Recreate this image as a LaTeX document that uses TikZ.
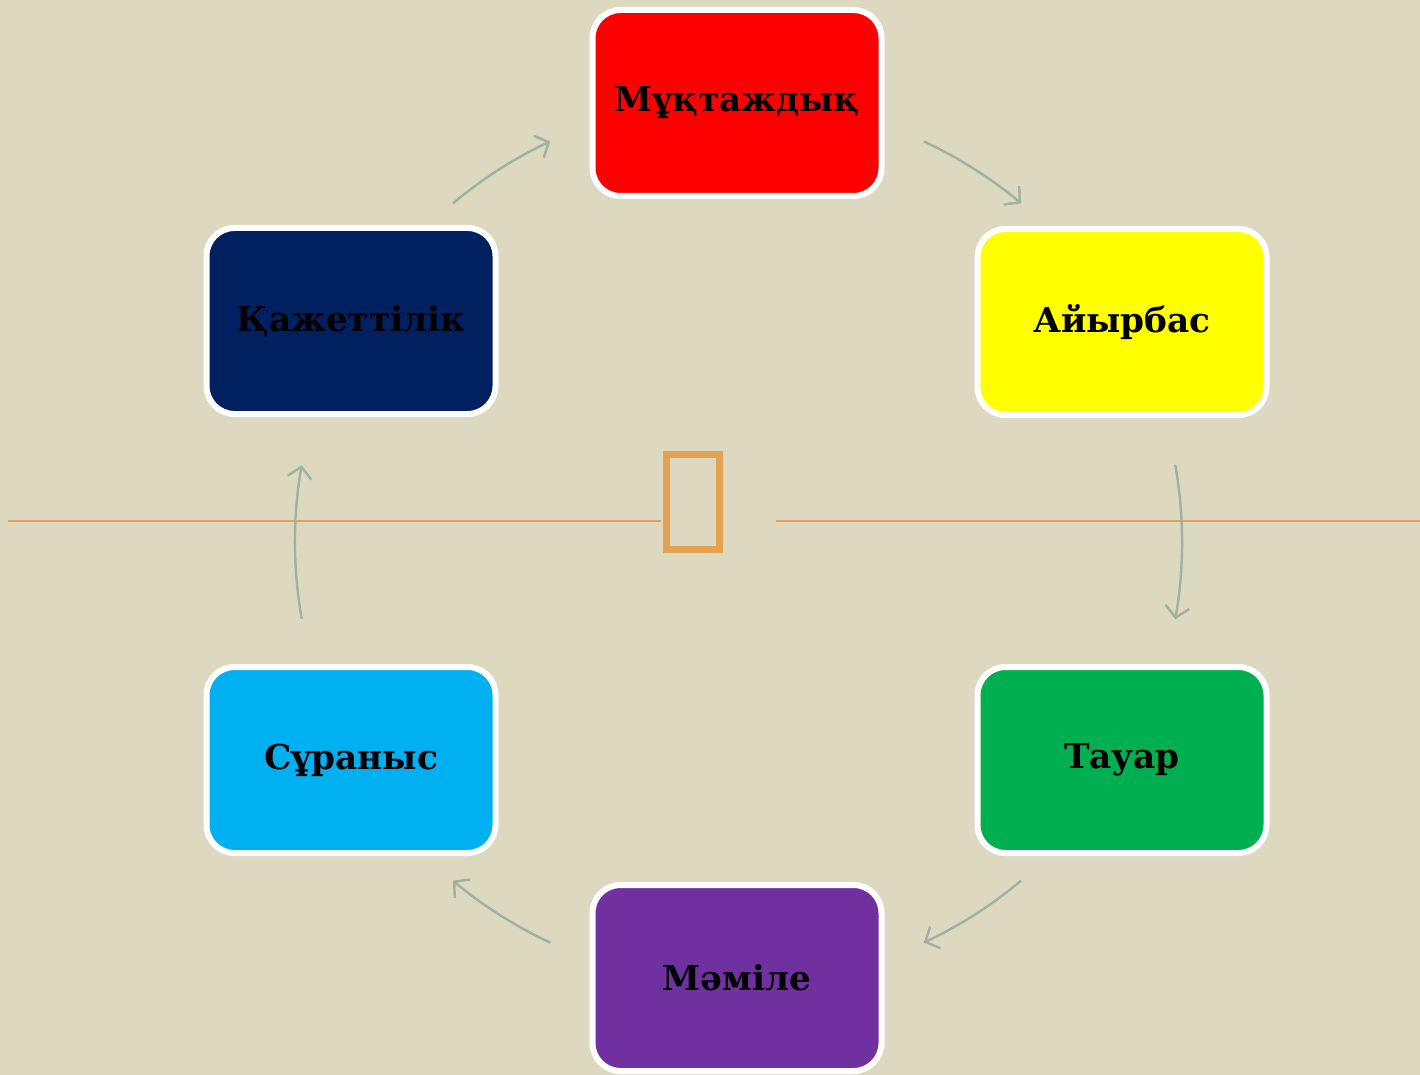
\documentclass[tikz,border=0pt]{standalone}
\usepackage{fontspec}
\setmainfont{DejaVu Serif}
\usetikzlibrary{arrows.meta}
\definecolor{bg}{RGB}{221,217,192}
\definecolor{arr}{RGB}{158,178,158}
\definecolor{orng}{RGB}{226,162,82}
\definecolor{cred}{RGB}{255,0,0}
\definecolor{cnavy}{RGB}{0,32,96}
\definecolor{cyel}{RGB}{255,255,0}
\definecolor{cgreen}{RGB}{0,176,80}
\definecolor{ccyan}{RGB}{0,176,240}
\definecolor{cpurp}{RGB}{112,48,160}
\begin{document}
\begin{tikzpicture}[x=1pt,y=-1pt,
  cbox/.style={draw=white, line width=6pt, rounded corners=28pt,
    minimum width=289pt, minimum height=186pt, inner sep=0pt,
    font=\bfseries\fontsize{34.3}{40}\selectfont, text=black},
  cyc/.style={draw=arr, line width=2.4pt, -{Straight Barb[length=11pt,width=24pt,line width=2.4pt]}},
  orl/.style={draw=orng, line width=2pt}]
\fill[bg] (0,0) rectangle (1420,1075);
\useasboundingbox (0,0) rectangle (1420,1075);
% divider line and box
\coordinate (l1) at (8,521);
\coordinate (l2) at (661,521);
\coordinate (r1) at (776,521);
\coordinate (r2) at (1420,521);
\draw[orl] (l1) -- (l2);
\draw[orl] (r1) -- (r2);
\node[draw=orng, line width=7pt, minimum width=53pt, minimum height=95pt, inner sep=0pt] (sq) at (693,502) {};
% boxes
\node[cbox, fill=cred] (a) at (737,103) {Мұқтаждық};
\node[cbox, fill=cyel] (b) at (1122,322) {Айырбас};
\node[cbox, fill=cgreen] (c) at (1122,760) {Тауар};
\node[cbox, fill=cpurp] (d) at (737,978) {Мәміле};
\node[cbox, fill=ccyan] (e) at (351,760) {Сұраныс};
\node[cbox, fill=cnavy] (f) at (351,321) {Қажеттілік};
% cycle arrows on circle centred (737,542); y axis points down, so angles are negated
\coordinate (O) at (737,542);
\path (O) ++(-130:442) coordinate (p1);
\path (O) ++(-65:442) coordinate (p2);
\path (O) ++(-10:445) coordinate (p3);
\path (O) ++(50:442) coordinate (p4);
\path (O) ++(115:442) coordinate (p5);
\path (O) ++(170:442) coordinate (p6);
\draw[cyc] (p1) arc[start angle=-130, end angle=-115, radius=442];
\draw[cyc] (p2) arc[start angle=-65, end angle=-50, radius=442];
\draw[cyc] (p3) arc[start angle=-10, end angle=10, radius=445];
\draw[cyc] (p4) arc[start angle=50, end angle=65, radius=442];
\draw[cyc] (p5) arc[start angle=115, end angle=130, radius=442];
\draw[cyc] (p6) arc[start angle=170, end angle=190, radius=442];
\end{tikzpicture}
\end{document}
